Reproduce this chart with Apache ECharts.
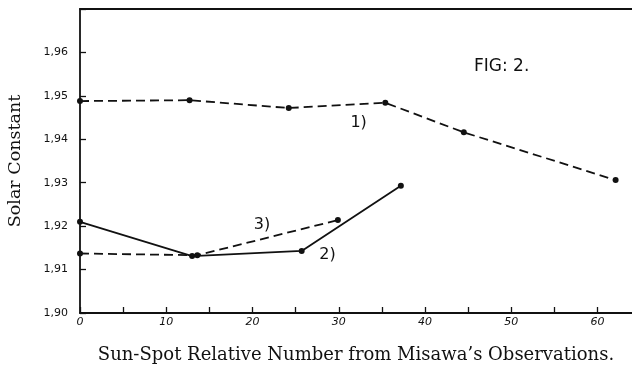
<!DOCTYPE html>
<html>
<head>
<meta charset="utf-8">
<script src="https://cdn.jsdelivr.net/npm/echarts@6/dist/echarts.min.js"></script>
<style>html,body{margin:0;padding:0;background:#fff}#c{width:632px;height:370px}</style>
</head>
<body>
<div id="c"></div>
<script>
// Data
var series1 = [[0, 1.9488], [12.7, 1.9490], [24.2, 1.9472], [35.4, 1.9484], [44.5, 1.9416], [62.1, 1.9306]];
var series2 = [[0, 1.9210], [13.0, 1.9131], [25.7, 1.9143], [37.2, 1.9293]];
var series3 = [[0, 1.9137], [13.6, 1.9133], [29.9, 1.9214]];
var seriesNames = ['1)', '2)', '3)'];
var labelPoints = [[32.3, 1.9438], [28.7, 1.9133], [21.1, 1.9203]];
var yLabelValues = ['1.90', '1.91', '1.92', '1.93', '1.94', '1.95', '1.96'];
var xLabelValues = [0, 10, 20, 30, 40, 50, 60];
var figTitle = 'FIG: 2.';
var xTitle = 'Sun-Spot Relative Number from Misawa\u2019s Observations.';
var yTitle = 'Solar Constant';

var chart = echarts.init(document.getElementById('c'));
var ink = '#111';
function mkSeries(name, data, dashed, lp) {
  return {
    name: name, type: 'line', data: data, symbol: 'circle', symbolSize: 6,
    itemStyle: { color: ink },
    lineStyle: { color: ink, width: 1.8, type: dashed ? [9, 5] : 'solid' },
    animation: false, z: 3,
    markPoint: {
      symbol: 'circle', symbolSize: 0,
      data: [{ coord: lp, value: name }],
      label: { show: true, position: 'inside', formatter: name, color: ink,
        fontFamily: 'DejaVu Sans', fontSize: 16 }
    }
  };
}
chart.setOption({
  backgroundColor: '#fff',
  animation: false,
  title: { text: figTitle, left: 469, top: 53,
    textStyle: { fontFamily: 'DejaVu Sans', fontWeight: 'normal', fontSize: 17, color: ink } },
  grid: { left: 80, right: 0, top: 9, bottom: 57, outerBoundsMode: 'none', containLabel: false },
  xAxis: [{
    type: 'value', min: 0, max: 64, interval: 5,
    axisLine: { show: true, lineStyle: { color: ink, width: 1.8 } },
    axisTick: { show: true, inside: true, length: 6, lineStyle: { color: ink, width: 1.3 } },
    axisLabel: { color: ink, fontSize: 11, fontStyle: 'italic', fontFamily: 'DejaVu Sans', margin: 4,
      showMaxLabel: false,
      formatter: function (v) { return xLabelValues.indexOf(v) >= 0 ? String(v) : ''; } },
    splitLine: { show: false },
    name: xTitle, nameLocation: 'middle', nameGap: 33,
    nameTextStyle: { fontFamily: 'DejaVu Serif', fontSize: 18, color: ink }
  }, {
    type: 'value', position: 'top', min: 0, max: 64,
    axisLine: { show: true, lineStyle: { color: ink, width: 1.8 } },
    axisTick: { show: false }, axisLabel: { show: false }, splitLine: { show: false }
  }],
  yAxis: {
    type: 'value', min: 1.90, max: 1.97, interval: 0.01,
    axisLine: { show: true, lineStyle: { color: ink, width: 1.8 } },
    axisTick: { show: true, inside: true, length: 6, lineStyle: { color: ink, width: 1.3 } },
    axisLabel: { color: ink, fontSize: 11, fontFamily: 'DejaVu Sans', margin: 12,
      formatter: function (v) {
        var s = v.toFixed(2);
        return yLabelValues.indexOf(s) >= 0 ? s.replace('.', ',') : '';
      } },
    splitLine: { show: false },
    name: yTitle, nameLocation: 'middle', nameGap: 56, nameRotate: 90,
    nameTextStyle: { fontFamily: 'DejaVu Serif', fontSize: 17.5, color: ink }
  },
  series: [
    mkSeries(seriesNames[0], series1, true, labelPoints[0]),
    mkSeries(seriesNames[1], series2, false, labelPoints[1]),
    mkSeries(seriesNames[2], series3, true, labelPoints[2])
  ]
});
</script>
</body>
</html>
